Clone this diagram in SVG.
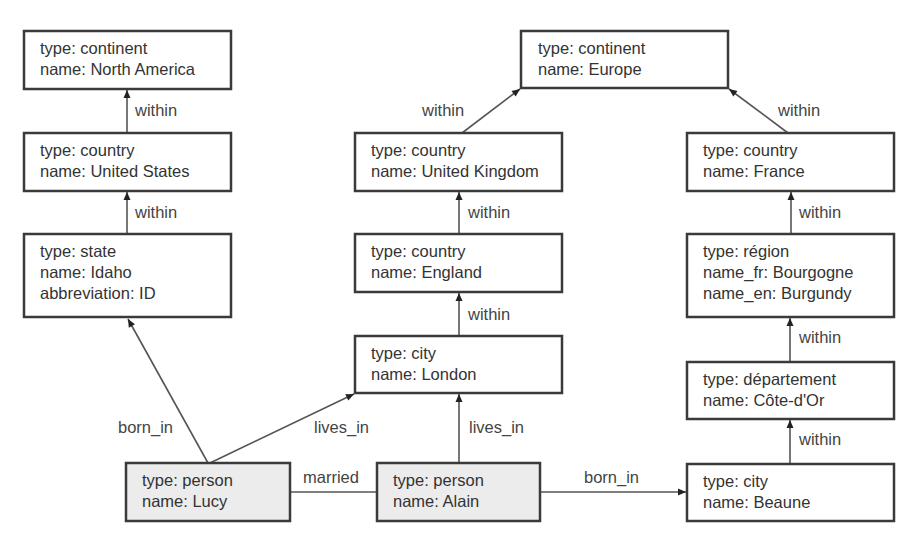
<svg xmlns="http://www.w3.org/2000/svg" width="924" height="550" viewBox="0 0 924 550">
<style>
.box{fill:#fff;stroke:#3a3a3a;stroke-width:2.5}
.person{fill:#ececec}
.t{font-family:"Liberation Sans",Arial,sans-serif;font-size:16.5px;fill:#333}
.e{stroke:#555;stroke-width:1.6;fill:none}
.lbl{font-family:"Liberation Sans",Arial,sans-serif;font-size:16.5px;fill:#444}
</style>
<defs>
<marker id="ah" markerUnits="userSpaceOnUse" markerWidth="10" markerHeight="10" viewBox="0 0 10 10" refX="9" refY="5" orient="auto">
<path d="M1,1.5 L9,5 L1,8.5 Z" fill="#222"/>
</marker>
</defs>
<rect width="924" height="550" fill="#fff"/>
<g id="connectors">
<line class="e" x1="127" y1="133" x2="127" y2="90" marker-end="url(#ah)"/>
<line class="e" x1="127" y1="234" x2="127" y2="192" marker-end="url(#ah)"/>
<line class="e" x1="208" y1="463" x2="128" y2="319" marker-end="url(#ah)"/>
<line class="e" x1="210" y1="463" x2="354" y2="394" marker-end="url(#ah)"/>
<line class="e" x1="459" y1="463" x2="459" y2="394" marker-end="url(#ah)"/>
<line class="e" x1="459" y1="336" x2="459" y2="293" marker-end="url(#ah)"/>
<line class="e" x1="459" y1="234" x2="459" y2="192" marker-end="url(#ah)"/>
<line class="e" x1="462" y1="133" x2="520" y2="89" marker-end="url(#ah)"/>
<line class="e" x1="788" y1="133" x2="729" y2="89" marker-end="url(#ah)"/>
<line class="e" x1="791" y1="234" x2="791" y2="192" marker-end="url(#ah)"/>
<line class="e" x1="790" y1="362" x2="790" y2="318" marker-end="url(#ah)"/>
<line class="e" x1="790" y1="464" x2="790" y2="420" marker-end="url(#ah)"/>
<line class="e" x1="290" y1="492" x2="377" y2="492"/>
<line class="e" x1="540" y1="492" x2="686" y2="492" marker-end="url(#ah)"/>
<text class="lbl" x="135" y="116">within</text>
<text class="lbl" x="135" y="218">within</text>
<text class="lbl" x="118" y="433">born_in</text>
<text class="lbl" x="314" y="433">lives_in</text>
<text class="lbl" x="469" y="433">lives_in</text>
<text class="lbl" x="303" y="483">married</text>
<text class="lbl" x="584" y="483">born_in</text>
<text class="lbl" x="422" y="116">within</text>
<text class="lbl" x="468" y="218">within</text>
<text class="lbl" x="468" y="320">within</text>
<text class="lbl" x="778" y="116">within</text>
<text class="lbl" x="799" y="218">within</text>
<text class="lbl" x="799" y="343">within</text>
<text class="lbl" x="799" y="445">within</text>
</g>
<g id="north_america">
<rect class="box" x="24" y="31" width="207" height="58"/>
<text class="t" x="40" y="54">type: continent</text>
<text class="t" x="40" y="75">name: North America</text>
</g>
<g id="united_states">
<rect class="box" x="24" y="133" width="207" height="58"/>
<text class="t" x="40" y="156">type: country</text>
<text class="t" x="40" y="177">name: United States</text>
</g>
<g id="idaho">
<rect class="box" x="24" y="234" width="207" height="83"/>
<text class="t" x="40" y="257">type: state</text>
<text class="t" x="40" y="278">name: Idaho</text>
<text class="t" x="40" y="299">abbreviation: ID</text>
</g>
<g id="europe">
<rect class="box" x="521" y="31" width="207" height="57"/>
<text class="t" x="538" y="54">type: continent</text>
<text class="t" x="538" y="75">name: Europe</text>
</g>
<g id="united_kingdom">
<rect class="box" x="355" y="133" width="207" height="58"/>
<text class="t" x="371" y="156">type: country</text>
<text class="t" x="371" y="177">name: United Kingdom</text>
</g>
<g id="england">
<rect class="box" x="355" y="234" width="207" height="58"/>
<text class="t" x="371" y="257">type: country</text>
<text class="t" x="371" y="278">name: England</text>
</g>
<g id="london">
<rect class="box" x="355" y="336" width="207" height="57"/>
<text class="t" x="371" y="359">type: city</text>
<text class="t" x="371" y="380">name: London</text>
</g>
<g id="france">
<rect class="box" x="687" y="133" width="207" height="58"/>
<text class="t" x="703" y="156">type: country</text>
<text class="t" x="703" y="177">name: France</text>
</g>
<g id="bourgogne">
<rect class="box" x="687" y="234" width="207" height="83"/>
<text class="t" x="703" y="257">type: région</text>
<text class="t" x="703" y="278">name_fr: Bourgogne</text>
<text class="t" x="703" y="299">name_en: Burgundy</text>
</g>
<g id="cote_dor">
<rect class="box" x="687" y="362" width="207" height="57"/>
<text class="t" x="703" y="385">type: département</text>
<text class="t" x="703" y="406">name: Côte-d'Or</text>
</g>
<g id="beaune">
<rect class="box" x="687" y="464" width="207" height="57"/>
<text class="t" x="703" y="487">type: city</text>
<text class="t" x="703" y="508">name: Beaune</text>
</g>
<g id="lucy">
<rect class="box person" x="126" y="463" width="164" height="58"/>
<text class="t" x="142" y="486">type: person</text>
<text class="t" x="142" y="507">name: Lucy</text>
</g>
<g id="alain">
<rect class="box person" x="377" y="463" width="163" height="58"/>
<text class="t" x="393" y="486">type: person</text>
<text class="t" x="393" y="507">name: Alain</text>
</g>
</svg>
